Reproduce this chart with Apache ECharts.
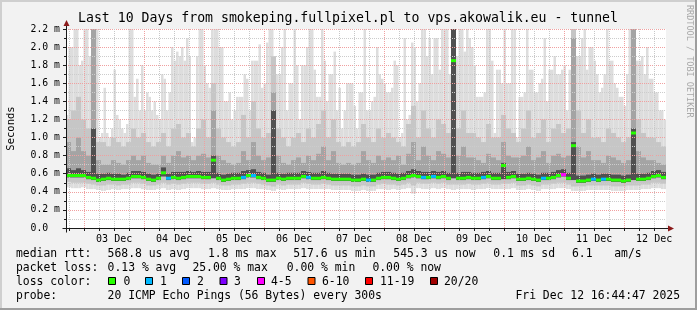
<!DOCTYPE html>
<html><head><meta charset="utf-8">
<script src="https://cdn.jsdelivr.net/npm/echarts@6/dist/echarts.min.js"></script>
<style>html,body{margin:0;padding:0;background:#f2f2f2}#c{width:697px;height:310px}</style>
</head><body><div id="c"></div>
<script>
// ---- time frame (hours since Dec 02 00:00) ----
const START_HOUR = 16 + 44/60 + 47/3600;   // Dec 02 16:44:47
const SPAN_HOURS = 240;                     // last 10 days
const BUCKET_HOURS = 2;                     // inner smoke / median buckets
const MAX_BUCKET_HOURS = 1;                 // outer smoke (max ping) buckets
const dayLabels = ['03 Dec','04 Dec','05 Dec','06 Dec','07 Dec','08 Dec','09 Dec','10 Dec','11 Dec','12 Dec'];
const dayMidnights = [24,48,72,96,120,144,168,192,216,240];
const dayNoons = [36,60,84,108,132,156,180,204,228,252];

// ---- smoke (ms) ----
// highest ping per hour
const maxPing = [
 1.25,2.0,2.0,2.3,2.3,1.8,1.85,2.3,2.3,1.9,2.3,2.3,2.2,1.0,1.05,1.55,1.05,1.0,1.1,1.75,1.25,1.2,1.1,1.05,1.15,2.3,2.3,1.45,1.65,1.3,
 1.8,1.3,1.5,1.45,1.3,1.4,1.25,1.2,1.7,1.65,1.3,1.5,2.0,1.85,1.95,1.9,2.0,1.85,2.1,1.9,0.95,1.0,1.9,2.3,2.2,1.8,1.6,1.55,2.3,2.3,
 2.2,2.0,2.0,1.4,1.4,1.5,1.2,1.3,1.45,1.45,1.45,1.7,1.65,1.3,1.85,1.85,1.85,2.03,1.55,1.6,2.05,2.2,2.2,1.9,1.7,1.7,2.0,2.3,1.3,1.6,
 1.6,2.3,1.8,1.2,1.8,1.8,2.0,2.3,2.3,1.75,1.45,1.45,2.3,1.85,1.4,1.7,1.7,1.95,1.3,1.55,1.1,1.3,1.6,1.6,1.6,1.35,1.1,1.5,1.5,2.2,
 1.3,1.3,1.4,1.45,2.0,1.7,1.65,1.6,1.5,1.5,1.55,1.85,1.8,1.0,1.05,2.1,1.2,1.25,2.05,2.0,1.4,1.6,2.3,2.2,1.9,2.1,1.7,2.1,2.1,1.75,
 2.2,2.3,2.2,1.7,2.3,2.3,1.9,2.3,2.3,1.95,2.2,2.1,2.0,1.8,1.45,1.45,1.45,1.5,2.2,2.2,1.85,1.05,1.75,1.75,1.6,2.2,1.6,1.6,2.2,2.2,
 1.0,1.45,1.45,1.5,2.3,1.75,1.75,1.5,1.5,1.6,1.65,2.1,1.4,1.75,1.75,1.9,1.7,1.7,1.75,1.8,1.3,1.75,1.75,2.3,1.9,1.9,2.1,2.3,1.75,2.0,
 2.0,1.85,1.7,1.5,1.55,1.7,2.3,1.85,1.85,1.6,1.55,1.45,1.45,1.35,1.7,2.3,2.3,2.2,1.85,1.85,1.9,1.7,2.0,1.65,1.65,1.5,1.5,1.3,1.3,1.2];
// inner smoke levels per 2 hours
const highPing2 = [1.2,1.3,1.45,1.2,1.1,2.3,0.95,0.95,0.9,1.0,0.95,0.9,0.95,1.1,1.0,1.05,0.95,0.9,0.95,1.05,0.9,1.1,1.15,1.0,1.05,0.9,1.1,1.2,1.0,1.6,
 1.1,1.0,0.95,0.9,0.95,1.25,1.0,1.4,1.1,1.0,1.05,1.9,1.1,1.0,0.9,1.0,1.05,0.95,1.1,1.0,1.15,1.3,1.0,1.2,0.95,0.9,0.95,0.9,0.95,1.15,
 1.0,0.95,1.1,1.0,1.05,1.0,0.95,0.9,1.15,1.35,1.0,1.3,1.1,1.0,1.2,1.15,1.05,2.3,1.1,1.3,1.05,1.05,1.0,0.95,1.15,1.0,1.0,1.25,1.1,1.05,
 0.95,1.1,1.3,1.0,1.05,1.2,0.95,1.1,1.15,1.05,1.1,2.2,1.3,1.05,1.2,1.0,1.0,0.95,1.1,1.05,1.0,0.95,1.0,2.3,1.2,1.05,1.0,1.0,0.95,0.9];
const highPing3 = [0.95,0.85,1.0,0.85,0.8,2.3,0.75,0.7,0.7,0.75,0.72,0.7,0.75,0.8,0.75,0.8,0.72,0.7,0.7,0.8,0.72,0.8,0.85,0.78,0.8,0.75,0.8,0.82,0.78,1.3,
 0.8,0.75,0.72,0.7,0.72,0.85,0.75,0.95,0.8,0.75,0.78,1.5,0.8,0.72,0.7,0.75,0.78,0.72,0.8,0.75,0.82,0.9,0.75,0.85,0.72,0.7,0.72,0.7,0.72,0.85,
 0.75,0.72,0.8,0.75,0.78,0.75,0.8,0.7,0.82,0.95,0.75,0.9,0.8,0.75,0.85,0.82,0.78,2.3,0.8,0.9,0.78,0.78,0.75,0.72,0.82,0.78,0.75,0.95,0.8,0.78,
 0.78,0.8,0.9,0.75,0.78,0.85,0.72,0.8,0.82,0.78,0.8,2.1,0.9,0.78,0.85,0.75,0.75,0.72,0.8,0.78,0.75,0.72,0.75,2.2,0.85,0.78,0.75,0.75,0.72,0.7];
const highPing4 = [0.66,0.64,0.66,0.64,0.62,1.1,0.6,0.6,0.61,0.6,0.6,0.59,0.61,0.63,0.63,0.62,0.6,0.59,0.6,0.67,0.6,0.62,0.62,0.62,0.63,0.62,0.63,0.62,0.62,0.8,
 0.61,0.59,0.6,0.61,0.61,0.63,0.64,0.65,0.62,0.61,0.59,1.3,0.61,0.6,0.61,0.61,0.61,0.63,0.62,0.61,0.61,0.63,0.61,0.6,0.6,0.6,0.6,0.59,0.59,0.6,
 0.59,0.59,0.61,0.62,0.62,0.61,0.6,0.61,0.63,0.65,0.63,0.62,0.62,0.63,0.62,0.63,0.61,2.3,0.61,0.62,0.62,0.61,0.61,0.62,0.63,0.61,0.61,0.72,0.62,0.63,
 0.6,0.6,0.61,0.6,0.59,0.61,0.61,0.62,0.64,0.65,0.61,0.95,0.58,0.58,0.59,0.6,0.59,0.6,0.6,0.59,0.59,0.58,0.59,1.1,0.6,0.6,0.61,0.63,0.64,0.62];
const minPing = [0.45,0.44,0.44,0.45,0.43,0.43,0.42,0.41,0.42,0.43,0.42,0.43,0.43,0.44,0.44,0.43,0.42,0.42,0.43,0.44,0.42,0.43,0.42,0.43,0.44,0.44,0.44,0.43,0.43,0.44,
 0.43,0.42,0.42,0.43,0.43,0.43,0.44,0.44,0.43,0.43,0.42,0.41,0.43,0.42,0.43,0.43,0.43,0.44,0.43,0.43,0.43,0.43,0.43,0.42,0.42,0.42,0.42,0.41,0.41,0.42,
 0.41,0.41,0.43,0.43,0.42,0.43,0.42,0.43,0.44,0.38,0.44,0.43,0.43,0.44,0.43,0.44,0.43,0.42,0.43,0.43,0.43,0.42,0.43,0.43,0.44,0.43,0.43,0.43,0.43,0.44,
 0.42,0.42,0.43,0.42,0.41,0.43,0.43,0.43,0.44,0.44,0.43,0.41,0.41,0.41,0.42,0.42,0.42,0.42,0.42,0.41,0.41,0.41,0.42,0.42,0.42,0.43,0.43,0.44,0.44,0.43];
const lowPing2 = [0.51,0.5,0.5,0.5,0.49,0.48,0.47,0.47,0.48,0.48,0.47,0.48,0.48,0.5,0.5,0.49,0.47,0.47,0.48,0.5,0.48,0.49,0.48,0.49,0.5,0.5,0.5,0.49,0.49,0.5,
 0.48,0.47,0.47,0.48,0.48,0.49,0.5,0.5,0.49,0.48,0.47,0.46,0.48,0.47,0.48,0.48,0.48,0.5,0.49,0.48,0.48,0.49,0.48,0.47,0.47,0.47,0.47,0.46,0.46,0.47,
 0.46,0.46,0.48,0.49,0.48,0.48,0.47,0.48,0.5,0.47,0.5,0.49,0.49,0.5,0.49,0.5,0.48,0.48,0.48,0.48,0.49,0.48,0.48,0.49,0.5,0.48,0.48,0.49,0.49,0.5,
 0.47,0.47,0.48,0.47,0.46,0.48,0.48,0.49,0.5,0.5,0.48,0.46,0.46,0.46,0.47,0.47,0.47,0.47,0.47,0.46,0.46,0.46,0.47,0.47,0.47,0.48,0.48,0.5,0.5,0.49];
const lowPing3 = [0.56,0.56,0.56,0.56,0.54,0.53,0.51,0.52,0.53,0.52,0.52,0.52,0.53,0.55,0.55,0.54,0.52,0.51,0.53,0.57,0.53,0.54,0.53,0.54,0.55,0.55,0.55,0.54,0.54,0.55,
 0.53,0.51,0.52,0.53,0.53,0.54,0.56,0.56,0.54,0.53,0.51,0.51,0.53,0.52,0.53,0.53,0.53,0.55,0.54,0.53,0.53,0.54,0.53,0.52,0.52,0.52,0.52,0.51,0.51,0.52,
 0.51,0.51,0.53,0.54,0.54,0.53,0.52,0.53,0.55,0.56,0.55,0.54,0.54,0.55,0.54,0.55,0.53,0.55,0.53,0.53,0.54,0.53,0.53,0.54,0.55,0.53,0.53,0.54,0.54,0.55,
 0.52,0.52,0.53,0.52,0.51,0.53,0.53,0.54,0.56,0.57,0.53,0.53,0.5,0.5,0.51,0.52,0.51,0.52,0.52,0.51,0.51,0.5,0.51,0.53,0.52,0.52,0.53,0.55,0.56,0.54];
const medianPing = [0.58,0.58,0.58,0.58,0.56,0.55,0.53,0.54,0.55,0.54,0.54,0.54,0.55,0.57,0.57,0.56,0.54,0.53,0.55,0.61,0.55,0.56,0.55,0.56,0.57,0.57,0.57,0.56,0.56,0.75,
 0.55,0.53,0.54,0.55,0.55,0.56,0.58,0.58,0.56,0.55,0.53,0.53,0.55,0.54,0.55,0.55,0.55,0.57,0.56,0.55,0.55,0.56,0.55,0.54,0.54,0.54,0.54,0.53,0.53,0.54,
 0.53,0.53,0.55,0.56,0.56,0.55,0.54,0.55,0.57,0.58,0.57,0.56,0.56,0.57,0.56,0.57,0.55,1.85,0.55,0.55,0.56,0.55,0.55,0.56,0.57,0.55,0.55,0.69,0.56,0.57,
 0.54,0.54,0.55,0.54,0.53,0.55,0.55,0.56,0.58,0.59,0.55,0.91,0.52,0.52,0.53,0.54,0.53,0.54,0.54,0.53,0.53,0.52,0.53,1.05,0.54,0.54,0.55,0.57,0.58,0.56];
const lostPings = [0,0,0,0,0,0,0,0,0,0,0,0,0,0,0,0,0,0,0,0,1,0,0,0,0,0,0,0,0,0,
 0,0,0,0,0,1,0,1,0,0,0,0,0,0,0,0,0,0,1,0,0,0,0,0,0,0,0,0,0,0,
 1,0,0,0,0,0,0,0,0,0,0,1,0,1,0,0,0,0,0,0,0,0,0,1,0,0,0,0,0,0,
 0,0,0,0,0,1,0,0,0,4,0,0,0,0,0,1,0,1,0,0,0,0,0,0,0,0,0,0,0,0];

// ---- legend / texts ----
const titleText = 'Last 10 Days from smokeping.fullpixel.pl to vps.akowalik.eu - tunnel';
const lossLabels = ['0','1','2','3','4-5','6-10','11-19','20/20'];
const lossUpper = [0,1,2,3,5,10,19,20];
const lossColors = ['#26ff00','#00b8ff','#0059ff','#7e00ff','#ff00ff','#ff5500','#ff0000','#a00000'];
const rttStats = ['568.8 us avg','1.8 ms max','517.6 us min','545.3 us now','0.1 ms sd','6.1','am/s'];
const lossStats = ['0.13 % avg','25.00 % max','0.00 % min','0.00 % now'];
const probeText = '20 ICMP Echo Pings (56 Bytes) every 300s';
const stampText = 'Fri Dec 12 16:44:47 2025';

const MONO = '"DejaVu Sans Mono", monospace';
const chart = echarts.init(document.getElementById('c'), null, {renderer:'canvas', width:697, height:310});

const Y_MAX = 2.2;
const ratio = BUCKET_HOURS / MAX_BUCKET_HOURS;
const outerData = maxPing.map((v,i)=>{
  const t0 = START_HOUR + i*MAX_BUCKET_HOURS;
  return [t0, t0+MAX_BUCKET_HOURS, minPing[Math.floor(i/ratio)], v];
});
const innerData = medianPing.map((m,i)=>{
  const t0 = START_HOUR + i*BUCKET_HOURS;
  return [t0, t0+BUCKET_HOURS, lowPing2[i], highPing2[i], lowPing3[i], highPing3[i], highPing4[i]];
});
const medianData = medianPing.map((v,i)=>{
  const t0 = START_HOUR + i*BUCKET_HOURS;
  return [t0, t0+BUCKET_HOURS, v, lostPings[i]];
});
const sixHour = [], allTicks = [];
for (let h = Math.ceil(START_HOUR/6)*6; h <= START_HOUR+SPAN_HOURS; h += 6) { allTicks.push(h); if (h % 24 !== 0) sixHour.push(h); }

function lossColor(n){ for (let k=0;k<lossUpper.length;k++) if (n<=lossUpper[k]) return lossColors[k]; return lossColors[lossColors.length-1]; }

function bandRenderer(defs){
  return function(p, api){
    const x0 = api.value(0), x1 = api.value(1);
    return {type:'group', children: defs.map(([a,b,c])=>{
      const p0 = api.coord([x0, api.value(a)]);
      const p1 = api.coord([x1, Math.min(api.value(b), Y_MAX)]);
      return {type:'rect', shape:{x:p0[0], y:p1[1], width:p1[0]-p0[0], height:p0[1]-p1[1]}, style:{fill:c}};
    })};
  };
}
function vLine(color){
  return function(p, api){
    const a = api.coord([api.value(0), 0]);
    const b = api.coord([api.value(0), Y_MAX]);
    const x = Math.round(a[0]) + 0.5;
    return {type:'line', shape:{x1:x, y1:a[1], x2:x, y2:b[1]}, style:{stroke:color, lineWidth:1, lineDash:[1,1]}};
  };
}

const legendGraphics = [];
function txt(x, y, s){ legendGraphics.push({type:'text', x:x, y:y, style:{text:s, font:'11.4px '+MONO, fill:'#000', textVerticalAlign:'middle'}}); }
txt(16, 254, 'median rtt:');
[107.6,208,293.3,393.3,493.3,572,614.2].forEach((x,i)=>txt(x,254,rttStats[i]));
txt(16, 268, 'packet loss:');
[107.6,192.4,286.7,372.4].forEach((x,i)=>txt(x,268,lossStats[i]));
txt(16, 282, 'loss color:');
const boxX = [108,145,182,219.5,257,307.5,365,430];
const lblX = [123.5,160,197,234,271,322,380,444];
lossLabels.forEach((l,i)=>{
  legendGraphics.push({type:'rect', shape:{x:boxX[i]+0.5, y:277.5, width:7, height:7}, style:{fill:lossColors[i], stroke:'#000', lineWidth:1}});
  txt(lblX[i], 282, l);
});
txt(16, 296, 'probe:');
txt(107.6, 296, probeText);
legendGraphics.push({type:'text', x:680, y:296, style:{text:stampText, font:'11.4px '+MONO, fill:'#000', textAlign:'right', textVerticalAlign:'middle'}});

const option = {
  backgroundColor:'#f2f2f2',
  animation:false,
  grid:{left:66, right:31, top:29, bottom:82, show:true, backgroundColor:'#ffffff', borderWidth:0},
  xAxis:{type:'value', min:START_HOUR, max:START_HOUR+SPAN_HOURS, z:3,
    splitLine:{show:false},
    axisLine:{show:true, lineStyle:{color:'#1a1a1a', width:1}},
    axisTick:{show:true, customValues:allTicks, length:3, lineStyle:{color:'#1a1a1a'}},
    axisLabel:{customValues:dayNoons, margin:6, color:'#000', fontFamily:MONO, fontSize:10,
      formatter:(v)=>{const i = dayNoons.indexOf(Math.round(v)); return i>=0 ? dayLabels[i] : '';}}
  },
  yAxis:{type:'value', min:0, max:Y_MAX, interval:0.2, z:3,
    axisLine:{show:true, lineStyle:{color:'#1a1a1a', width:1}},
    axisTick:{show:true, length:3, lineStyle:{color:'#1a1a1a'}},
    minorTick:{show:true, splitNumber:2, length:2, lineStyle:{color:'#1a1a1a'}},
    splitLine:{show:true, lineStyle:{color:'#f0a0a0', width:1, type:[1,1]}},
    minorSplitLine:{show:true, lineStyle:{color:'#cccccc', width:1, type:[1,1]}},
    axisLabel:{margin:6, color:'#000', fontFamily:MONO, fontSize:9.8,
      formatter:(v)=> Math.abs(v)<1e-9 ? '0.0  ' : v.toFixed(1)+' m'}
  },
  series:[
    {type:'custom', name:'smokeOuter', z:2, clip:true, silent:true, data:outerData, encode:{x:[0,1], y:[2,3]},
      renderItem:bandRenderer([[2,3,'#dddddd']])},
    {type:'custom', name:'smokeInner', z:2, clip:true, silent:true, data:innerData, encode:{x:[0,1], y:[2,3]},
      renderItem:bandRenderer([[2,3,'#c6c6c6'],[4,5,'#a4a4a4'],[4,6,'#505050']])},
    {type:'custom', name:'grid6h', z:3, silent:true, data:sixHour.map(h=>[h,0]), encode:{x:0,y:1}, renderItem:vLine('#c8c8c8')},
    {type:'custom', name:'gridDay', z:3, silent:true, data:dayMidnights.map(h=>[h,0]), encode:{x:0,y:1}, renderItem:vLine('#f0a0a0')},
    {type:'custom', name:'median', z:5, clip:true, silent:true, data:medianData, encode:{x:[0,1], y:2},
      renderItem:(p, api)=>{
        const a = api.coord([api.value(0), api.value(2)]);
        const b = api.coord([api.value(1), api.value(2)]);
        return {type:'rect', shape:{x:a[0], y:a[1]-1.5, width:b[0]-a[0], height:3}, style:{fill:lossColor(api.value(3))}};
      }}
  ],
  graphic:[
    {type:'text', x:348, y:19, style:{text:titleText, font:'13.2px '+MONO, fill:'#000', textAlign:'center', textVerticalAlign:'middle'}},
    {type:'text', x:11, y:128.5, rotation:Math.PI/2, style:{text:'Seconds', font:'10.5px '+MONO, fill:'#000', textAlign:'center', textVerticalAlign:'middle'}},
    {type:'text', x:689, y:5, rotation:-Math.PI/2, style:{text:'RRDTOOL / TOBI OETIKER', font:'8.5px '+MONO, fill:'#a8a8a8', textAlign:'left', textVerticalAlign:'middle'}},
    {type:'line', shape:{x1:0, y1:1, x2:697, y2:1}, style:{stroke:'#cfcfcf', lineWidth:2}},
    {type:'line', shape:{x1:1, y1:0, x2:1, y2:310}, style:{stroke:'#cfcfcf', lineWidth:2}},
    {type:'line', shape:{x1:0, y1:309, x2:697, y2:309}, style:{stroke:'#9e9e9e', lineWidth:2}},
    {type:'line', shape:{x1:696, y1:0, x2:696, y2:310}, style:{stroke:'#9e9e9e', lineWidth:2}}
  ].concat(legendGraphics)
};
chart.setOption(option);

// axis extensions and arrow heads
const o = chart.convertToPixel({gridIndex:0}, [START_HOUR, 0]);
const xe = chart.convertToPixel({gridIndex:0}, [START_HOUR+SPAN_HOURS, 0]);
const ye = chart.convertToPixel({gridIndex:0}, [START_HOUR, Y_MAX]);
const ax = Math.round(o[0])+0.5, ay = Math.round(o[1])+0.5;
chart.setOption({graphic: option.graphic.concat([
  {type:'line', z:10, shape:{x1:ax-4, y1:ay, x2:xe[0]+3, y2:ay}, style:{stroke:'#1a1a1a', lineWidth:1}},
  {type:'line', z:10, shape:{x1:ax, y1:ay+4, x2:ax, y2:ye[1]-4}, style:{stroke:'#1a1a1a', lineWidth:1}},
  {type:'polygon', z:10, shape:{points:[[xe[0]+2,ay-3],[xe[0]+8,ay],[xe[0]+2,ay+3]]}, style:{fill:'#8b1a1a'}},
  {type:'polygon', z:10, shape:{points:[[ax-3,ye[1]-3],[ax,ye[1]-9],[ax+3,ye[1]-3]]}, style:{fill:'#8b1a1a'}}
])});
</script>
</body></html>
